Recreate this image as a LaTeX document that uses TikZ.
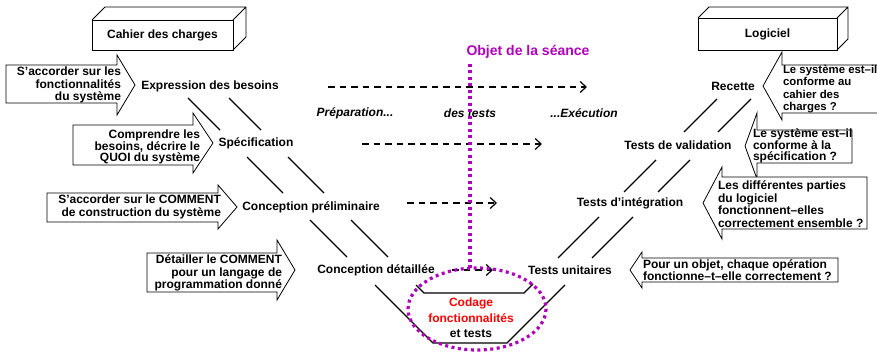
\documentclass[tikz,border=0pt]{standalone}
\usepackage{fontspec}
\setmainfont{Liberation Sans}
\usetikzlibrary{arrows.meta, calc}
\definecolor{seancepurple}{HTML}{B000BB}
\definecolor{codagered}{HTML}{FF0000}

\begin{document}
\begin{tikzpicture}[x=1pt, y=-1pt,
    lbl/.style={inner sep=0pt, outer sep=0pt, font=\bfseries\fontsize{12}{12.5}\selectfont},
    vline/.style={line width=1.2pt},
    blockarrow/.style={draw, fill=white, line width=0.8pt},
    testarrow/.style={line width=1.2pt, dash pattern=on 6.5pt off 5pt, -{Straight Barb[length=6pt,width=11pt]}},
    seance/.style={seancepurple, line width=3.2pt, dash pattern=on 3pt off 3.5pt}]
  \clip (0,0) rectangle (877,352);

  % boites 3D
  \node[lbl, draw, line width=0.8pt, minimum width=141pt, minimum height=30pt] (cahier) at (162.5,35) {Cahier des charges};
  \draw[line width=0.8pt] (cahier.north west) -- ++(13,-13) -- ++(141,0) -- ++(0,30) -- (cahier.south east)
    (cahier.north east) -- ++(13,-13);
  \node[lbl, draw, line width=0.8pt, minimum width=139pt, minimum height=32pt] (logiciel) at (767.5,34) {Logiciel};
  \draw[line width=0.8pt] (logiciel.north west) -- ++(11,-11) -- ++(139,0) -- ++(0,32) -- (logiciel.south east)
    (logiciel.north east) -- ++(11,-11);

  % fleches de gauche
  \draw[blockarrow] (6,65) -- (117,65) -- (117,55) -- (135,85) -- (117,115) -- (117,103) -- (6,103) -- cycle;
  \node[lbl, anchor=east, align=right] (accord) at (121,85) {S'accorder sur les\\fonctionnalités\\du système};
  \draw[blockarrow] (73,125) -- (193,125) -- (193,113) -- (213,143) -- (193,173) -- (193,165) -- (73,165) -- cycle;
  \node[lbl, anchor=east, align=right, font=\bfseries\fontsize{12}{11.5}\selectfont] (quoi) at (200,147) {Comprendre les\\besoins, décrire le\\QUOI du système};
  \draw[blockarrow] (47,193) -- (218,193) -- (218,185) -- (237,207) -- (218,229) -- (218,222) -- (47,222) -- cycle;
  \node[lbl, anchor=east, align=right, font=\bfseries\fontsize{12}{13}\selectfont] (comment) at (221,207) {S'accorder sur le COMMENT\\de construction du système};
  \draw[blockarrow] (147,253) -- (277,253) -- (277,240) -- (295,270) -- (277,300) -- (277,292) -- (147,292) -- cycle;
  \node[lbl, anchor=east, align=right] (langage) at (282,273) {Détailler le COMMENT\\pour un langage de\\programmation donné};

  % fleches de droite
  \draw[blockarrow] (890,65) -- (782,65) -- (782,52) -- (763,86) -- (782,120) -- (782,113) -- (890,113) -- cycle;
  \node[lbl, anchor=west, align=left, font=\bfseries\fontsize{11.4}{12.3}\selectfont] (cahierq) at (783,89) {Le système est–il\\conforme au\\cahier des\\charges ?};
  \draw[blockarrow] (852,130) -- (757,130) -- (757,113) -- (745,146) -- (757,179) -- (757,163) -- (852,163) -- cycle;
  \node[lbl, anchor=west, align=left, font=\bfseries\fontsize{12}{11}\selectfont] (specq) at (753,146) {Le système est–il\\conforme à la\\spécification ?};
  \draw[blockarrow] (867,177) -- (722,177) -- (722,167) -- (703,203) -- (722,239) -- (722,229) -- (867,229) -- cycle;
  \node[lbl, anchor=west, align=left] (partiesq) at (718,204) {Les différentes parties\\du logiciel\\fonctionnent–elles\\correctement ensemble ?};
  \draw[blockarrow] (838,258) -- (642,258) -- (642,252) -- (630,270) -- (642,288) -- (642,282) -- (838,282) -- cycle;
  \node[lbl, anchor=west, align=left] (objetq) at (643,270) {Pour un objet, chaque opération\\fonctionne–t–elle correctement ?};

  % le cycle en V
  \foreach \ya/\yb in {98/130,157/193,220/257} {
    \draw[vline] ({\ya+90},\ya) -- ({\yb+90},\yb);
    \draw[vline] ({\ya+131},\ya) -- ({\yb+131},\yb);
  }
  \foreach \ya/\yb in {99/132,160/192,217/258} {
    \draw[vline] ({816-\ya},\ya) -- ({816-\yb},\yb);
    \draw[vline] ({850-\ya},\ya) -- ({850-\yb},\yb);
  }
  \draw[vline] (375,285) -- (433,343) -- (507,343) -- (565,285);
  \draw[vline] (416,285) -- (424,293) -- (524,293) -- (533,284);

  \node[lbl] (besoins) at (210,86) {Expression des besoins};
  \node[lbl] (specif) at (256,143) {Spécification};
  \node[lbl] (prelim) at (311,207) {Conception préliminaire};
  \node[lbl] (detail) at (376,270) {Conception détaillée};
  \node[lbl] (unitaires) at (570,270) {Tests unitaires};
  \node[lbl] (integration) at (630,203) {Tests d’intégration};
  \node[lbl] (validation) at (678,145) {Tests de validation};
  \node[lbl] (recette) at (733,86) {Recette};
  \node[lbl, align=center, font=\bfseries\fontsize{12}{15.5}\selectfont] (codage) at (471,318)
    {\textcolor{codagered}{Codage}\\\textcolor{codagered}{fonctionnalités}\\et tests};

  % preparation / execution des tests
  \coordinate (p1) at (328,87);  \coordinate (e1) at (587,87);
  \coordinate (p2) at (362,144); \coordinate (e2) at (542,144);
  \coordinate (p3) at (407,203); \coordinate (e3) at (497,203);
  \coordinate (p4) at (452,270); \coordinate (e4) at (493,270);
  \foreach \i in {1,...,4} {
    \draw[testarrow] (p\i) -- (e\i);
  }
  \node[lbl, font=\bfseries\itshape\fontsize{12}{12.5}\selectfont] (prep) at (355,113) {Préparation...};
  \node[lbl, font=\bfseries\itshape\fontsize{12}{12.5}\selectfont] (destests) at (470,113) {des tests};
  \node[lbl, font=\bfseries\itshape\fontsize{12}{12.5}\selectfont] (exec) at (584,113) {...Exécution};

  % objet de la seance
  \node[lbl, text=seancepurple, font=\bfseries\fontsize{14}{16}\selectfont] (objet) at (528,52) {Objet de la séance};
  \coordinate (objtop) at (470,64);
  \coordinate (objbot) at (470,268);
  \draw[seance] (objtop) -- (objbot);
  \draw[seance] (477,309) ellipse [x radius=69, y radius=41];
\end{tikzpicture}
\end{document}
